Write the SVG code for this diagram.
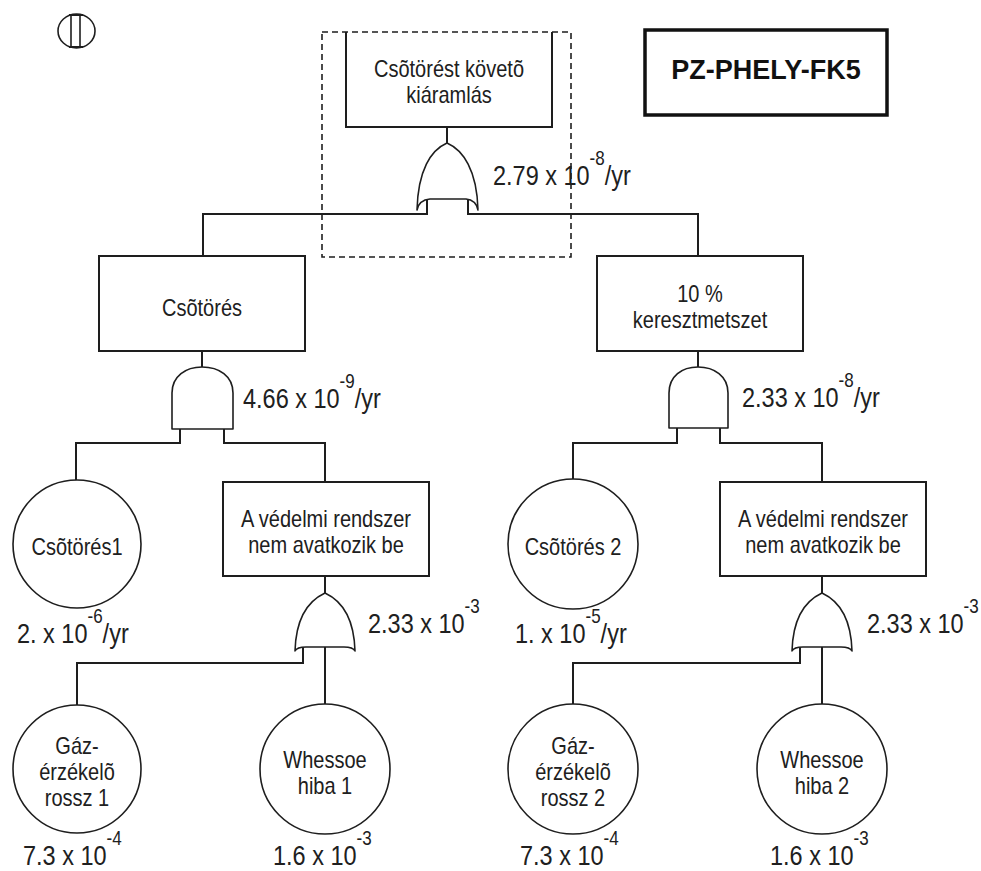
<svg xmlns="http://www.w3.org/2000/svg" width="981" height="871" viewBox="0 0 981 871">
  <style>
    .box { fill: none; stroke: #1e1e1e; stroke-width: 2; }
    .gate { fill: #fff; stroke: #1e1e1e; stroke-width: 1.6; stroke-linejoin: round; }
    .ev { fill: #fff; stroke: #1e1e1e; stroke-width: 1.6; }
    .wire { fill: none; stroke: #1e1e1e; stroke-width: 2; }
    .frame { fill: none; stroke: #1e1e1e; stroke-width: 1.6; stroke-dasharray: 6 4; }
    .lbl { font-family: "Liberation Sans", Arial, sans-serif; font-size: 20px; fill: #202020; text-anchor: middle; }
    .num { font-family: "Liberation Sans", Arial, sans-serif; font-size: 23.5px; fill: #202020; }
    .sup { font-size: 17px; }
    .title { font-family: "Liberation Sans", Arial, sans-serif; font-size: 27px; font-weight: bold; fill: #111; text-anchor: middle; }
  </style>

  <rect width="981" height="871" fill="#fff"/>

  <!-- small marker symbol, top left -->
  <g id="symbol">
    <ellipse cx="76.5" cy="31" rx="18.5" ry="17" class="ev"/>
    <rect x="71" y="15" width="9" height="32" fill="none" stroke="#1e1e1e" stroke-width="1.6"/>
    <line x1="69" y1="15" x2="83" y2="15" stroke="#1e1e1e" stroke-width="2"/>
    <line x1="69" y1="47" x2="83" y2="47" stroke="#1e1e1e" stroke-width="2"/>
  </g>

  <!-- connectors -->
  <g id="connectors">
    <!-- top event to OR gate -->
    <line x1="447" y1="127" x2="447" y2="143" class="wire"/>
    <!-- OR gate legs to the two AND branches -->
    <polyline points="427,199 427,214 203,214 203,257" class="wire"/>
    <polyline points="468,199 468,214 698,214 698,257" class="wire"/>
    <!-- left branch -->
    <line x1="202" y1="351" x2="202" y2="367" class="wire"/>
    <polyline points="180,429 180,443 76,443 76,481" class="wire"/>
    <polyline points="224,429 224,443 325,443 325,482" class="wire"/>
    <line x1="325" y1="576" x2="325" y2="593" class="wire"/>
    <polyline points="303,647 303,663 77,663 77,705" class="wire"/>
    <line x1="325" y1="647" x2="325" y2="705" class="wire"/>
    <!-- right branch -->
    <line x1="698" y1="351" x2="698" y2="367" class="wire"/>
    <polyline points="677,428 677,443 573,443 573,481" class="wire"/>
    <polyline points="720,428 720,443 822,443 822,482" class="wire"/>
    <line x1="822" y1="576" x2="822" y2="593" class="wire"/>
    <polyline points="800,647 800,663 573,663 573,705" class="wire"/>
    <line x1="822" y1="647" x2="822" y2="705" class="wire"/>
  </g>

  <!-- top event with dashed frame -->
  <g id="top-event">
    <rect x="322" y="32" width="249" height="225" class="frame"/>
    <path d="M346,32 V127 H552 V32" class="box"/>
    <text class="lbl" transform="translate(449,77) scale(1,1.2)">Csõtörést követõ</text>
    <text class="lbl" transform="translate(449,103) scale(1,1.2)">kiáramlás</text>
  </g>

  <g id="gate-top">
    <path d="M447,143 C431,150 418,170 417,210 Q419,200 430,199 L466,199 Q476,200 478,210 C477,170 463,150 447,143 Z" class="gate"/>
    <text class="num" transform="translate(493,185) scale(1,1.2)">2.79 x 10<tspan class="sup" dy="-17">-8</tspan><tspan dy="17">/yr</tspan></text>
  </g>

  <g id="title">
    <rect x="645" y="30" width="242" height="85" fill="none" stroke="#111" stroke-width="3.5"/>
    <text class="title" x="766" y="79">PZ-PHELY-FK5</text>
  </g>

  <!-- left branch -->
  <g id="csotores">
    <rect x="99" y="256" width="206" height="95" class="box"/>
    <text class="lbl" transform="translate(202,316) scale(1,1.2)">Csõtörés</text>
  </g>

  <g id="gate-and-left">
    <path d="M172,429 V393 C172,376 186,367 202,367 C219,367 233,376 233,393 V429 Z" class="gate"/>
    <text class="num" transform="translate(243,408) scale(1,1.2)">4.66 x 10<tspan class="sup" dy="-17">-9</tspan><tspan dy="17">/yr</tspan></text>
  </g>

  <g id="csotores1">
    <circle cx="77" cy="544" r="64" class="ev"/>
    <text class="lbl" transform="translate(77,555) scale(1,1.2)">Csõtörés1</text>
    <text class="num" transform="translate(17,643) scale(1,1.2)">2. x 10<tspan class="sup" dy="-17">-6</tspan><tspan dy="17">/yr</tspan></text>
  </g>

  <g id="vedelmi-1">
    <rect x="223" y="482" width="206" height="94" class="box"/>
    <text class="lbl" transform="translate(326,527) scale(1,1.2)">A védelmi rendszer</text>
    <text class="lbl" transform="translate(326,553) scale(1,1.2)">nem avatkozik be</text>
  </g>

  <g id="gate-or-left">
    <path d="M325,593 C310,600 296,616 295,651 Q297,647 306,647 L344,647 Q353,647 355,651 C354,616 340,600 325,593 Z" class="gate"/>
    <text class="num" transform="translate(368,633) scale(1,1.2)">2.33 x 10<tspan class="sup" dy="-17">-3</tspan></text>
  </g>

  <g id="gaz-1">
    <circle cx="77" cy="769" r="64" class="ev"/>
    <text class="lbl" transform="translate(77,754) scale(1,1.2)">Gáz-</text>
    <text class="lbl" transform="translate(77,780) scale(1,1.2)">érzékelõ</text>
    <text class="lbl" transform="translate(77,806) scale(1,1.2)">rossz 1</text>
    <text class="num" transform="translate(23,865) scale(1,1.2)">7.3 x 10<tspan class="sup" dy="-17">-4</tspan></text>
  </g>

  <g id="whessoe-1">
    <circle cx="325" cy="769" r="65" class="ev"/>
    <text class="lbl" transform="translate(325,768) scale(1,1.2)">Whessoe</text>
    <text class="lbl" transform="translate(325,794) scale(1,1.2)">hiba 1</text>
    <text class="num" transform="translate(273,865) scale(1,1.2)">1.6 x 10<tspan class="sup" dy="-17">-3</tspan></text>
  </g>

  <!-- right branch -->
  <g id="keresztmetszet">
    <rect x="597" y="256" width="206" height="95" class="box"/>
    <text class="lbl" transform="translate(700,302) scale(1,1.2)">10 %</text>
    <text class="lbl" transform="translate(700,328) scale(1,1.2)">keresztmetszet</text>
  </g>

  <g id="gate-and-right">
    <path d="M669,428 V393 C669,376 682,367 698,367 C714,367 728,376 728,393 V428 Z" class="gate"/>
    <text class="num" transform="translate(742,407) scale(1,1.2)">2.33 x 10<tspan class="sup" dy="-17">-8</tspan><tspan dy="17">/yr</tspan></text>
  </g>

  <g id="csotores2">
    <circle cx="573" cy="544" r="65" class="ev"/>
    <text class="lbl" transform="translate(573,555) scale(1,1.2)">Csõtörés 2</text>
    <text class="num" transform="translate(515,643) scale(1,1.2)">1. x 10<tspan class="sup" dy="-17">-5</tspan><tspan dy="17">/yr</tspan></text>
  </g>

  <g id="vedelmi-2">
    <rect x="720" y="482" width="206" height="94" class="box"/>
    <text class="lbl" transform="translate(823,527) scale(1,1.2)">A védelmi rendszer</text>
    <text class="lbl" transform="translate(823,553) scale(1,1.2)">nem avatkozik be</text>
  </g>

  <g id="gate-or-right">
    <path d="M822,593 C807,600 793,616 792,651 Q794,647 803,647 L841,647 Q850,647 852,651 C851,616 837,600 822,593 Z" class="gate"/>
    <text class="num" transform="translate(867,633) scale(1,1.2)">2.33 x 10<tspan class="sup" dy="-17">-3</tspan></text>
  </g>

  <g id="gaz-2">
    <circle cx="573" cy="769" r="65" class="ev"/>
    <text class="lbl" transform="translate(573,754) scale(1,1.2)">Gáz-</text>
    <text class="lbl" transform="translate(573,780) scale(1,1.2)">érzékelõ</text>
    <text class="lbl" transform="translate(573,806) scale(1,1.2)">rossz 2</text>
    <text class="num" transform="translate(520,865) scale(1,1.2)">7.3 x 10<tspan class="sup" dy="-17">-4</tspan></text>
  </g>

  <g id="whessoe-2">
    <circle cx="822" cy="769" r="65" class="ev"/>
    <text class="lbl" transform="translate(822,768) scale(1,1.2)">Whessoe</text>
    <text class="lbl" transform="translate(822,794) scale(1,1.2)">hiba 2</text>
    <text class="num" transform="translate(770,865) scale(1,1.2)">1.6 x 10<tspan class="sup" dy="-17">-3</tspan></text>
  </g>
</svg>
